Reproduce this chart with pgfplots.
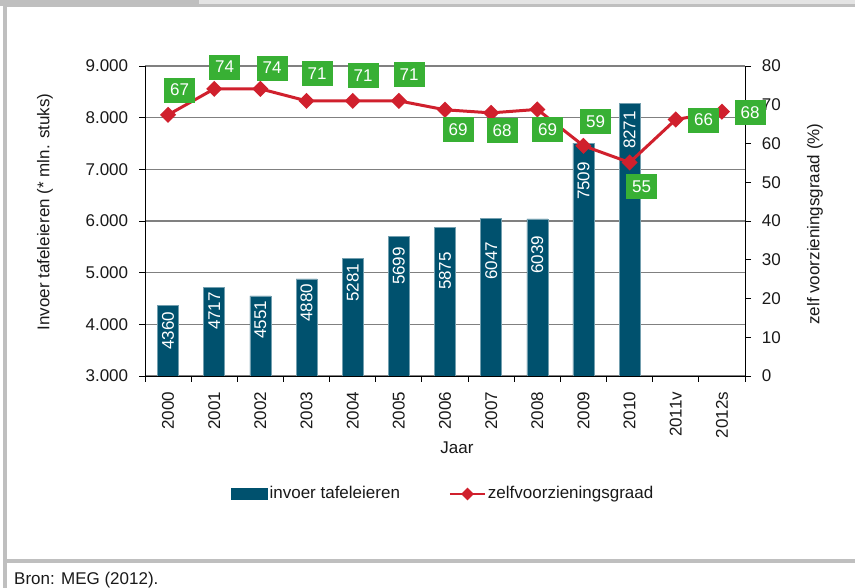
\documentclass[border=0pt]{standalone}
\usepackage{pgfplots}
\pgfplotsset{compat=1.18}
\usepackage{fontspec}
\setmainfont{Liberation Sans}
\definecolor{barc}{RGB}{0,81,110}
\definecolor{redc}{RGB}{208,32,45}
\definecolor{greenc}{RGB}{56,176,52}
\definecolor{framec}{RGB}{191,191,191}
\definecolor{framelight}{RGB}{228,228,228}
\definecolor{gridc}{RGB}{128,128,128}
\definecolor{txt}{RGB}{25,25,25}
\begin{document}
\fontsize{17pt}{20pt}\selectfont
\begin{tikzpicture}
\useasboundingbox (0pt,0pt) rectangle (855pt,588pt);
\fill[framec] (0pt,582pt) rectangle (199pt,588pt);
\fill[framelight] (199pt,584pt) rectangle (855pt,588pt);
\fill[framec] (3pt,581pt) rectangle (855pt,584pt);
\fill[framec] (3pt,0pt) rectangle (7pt,588pt);
\fill[framec] (3pt,25pt) rectangle (855pt,29pt);
\node[anchor=base west, inner sep=0pt, text=txt] at (14pt,3pt) {Bron: MEG (2012).};

\begin{axis}[
  at={(145pt,212pt)}, anchor=south west,
  scale only axis, width=600pt, height=310pt,
  xmin=-0.5, xmax=12.5, ymin=3000, ymax=9000,
  ytick={3000,4000,5000,6000,7000,8000,9000},
  xtick={-0.5,0.5,1.5,2.5,3.5,4.5,5.5,6.5,7.5,8.5,9.5,10.5,11.5,12.5},
  x tick label as interval,
  xticklabels={2000,2001,2002,2003,2004,2005,2006,2007,2008,2009,2010,2011v,2012s},
  xticklabel style={rotate=90, anchor=east, text=txt, xshift=-4pt},
  yticklabel style={text=txt, xshift=-5pt},
  axis x line*=bottom, axis y line*=left,
  axis line style={black, line width=0.9pt},
  tick align=outside, major tick length=6pt,
  tick style={black, line width=0.9pt},
  ymajorgrids, major grid style={gridc, line width=1.1pt},
  /pgf/number format/assume math mode=true,
  /pgf/number format/1000 sep={.},
  xlabel={Jaar},
  xlabel style={at={(axis description cs:0.52,-0.232)}, anchor=center, text=txt},
  ylabel={Invoer tafeleieren (* mln. stuks)},
  ylabel style={at={(axis description cs:-0.1667,0.529)}, anchor=center, text=txt},
]
\addplot[ybar, bar width=21pt, fill=barc, draw=barc!55!white, line width=0.5pt] coordinates {
 (0,4360) (1,4717) (2,4551) (3,4880) (4,5281) (5,5699) (6,5875) (7,6047) (8,6039) (9,7509) (10,8271)
};
\addplot[draw=none, mark=none, forget plot, nodes near coords, point meta=explicit symbolic,
  nodes near coords align={center},
  every node near coord/.append style={rotate=90, text=white, inner sep=0pt}]
  table[x=x, y=y, meta=lab] {
x y lab
0 3871 4360
1 4258 4717
2 4084 4551
3 4413 4880
4 4800 5281
5 5129 5699
6 5032 5875
7 5226 6047
8 5342 6039
9 6774 7509
10 7761 8271
};
\end{axis}

\begin{axis}[
  at={(145pt,212pt)}, anchor=south west,
  scale only axis, width=600pt, height=310pt,
  xmin=-0.5, xmax=12.5, ymin=0, ymax=80,
  ytick={0,10,20,30,40,50,60,70,80},
  yticklabel style={text=txt, xshift=5pt},
  axis y line*=right, axis x line=none,
  axis line style={black, line width=0.9pt},
  tick align=outside, major tick length=6pt,
  tick style={black, line width=0.9pt},
  /pgf/number format/assume math mode=true,
  clip=false,
  ylabel={zelf voorzieningsgraad (\%)},
  ylabel style={at={(axis description cs:1.1167,0.490)}, anchor=center, text=txt},
  legend columns=2,
  legend cell align=left,
  legend style={draw=none, fill=none, at={(axis description cs:0.1433,-0.3806)}, anchor=west,
    inner sep=0pt, text=txt, /tikz/every even column/.append style={column sep=47pt}},
]
\addlegendimage{legend image code/.code={\fill[barc] (0pt,-5.5pt) rectangle (36pt,5.5pt);}}
\addlegendentry{invoer tafeleieren}
\addplot[redc, line width=3pt, mark=square*, mark size=4.2pt, mark options={rotate=45, solid, fill=redc},
  legend image code/.code={\draw[redc, line width=2pt, mark=square*, mark size=3.5pt, mark options={rotate=45, fill=redc}, mark repeat=2, mark phase=2] plot coordinates {(0pt,0pt) (17.5pt,0pt) (35pt,0pt)};}]
  coordinates {
 (0,67.4) (1,74.1) (2,74.1) (3,71.0) (4,71.0) (5,71.0) (6,68.7) (7,67.9) (8,68.8) (9,59.4) (10,55.1) (11,66.2) (12,68.2)
};
\addlegendentry{zelfvoorzieningsgraad}
\addplot[draw=none, mark=none, forget plot, nodes near coords, point meta=explicit symbolic,
  nodes near coords align={center},
  every node near coord/.append style={fill=greenc, text=white, minimum width=31pt, minimum height=25pt, inner sep=0pt}]
  table[x=x, y=y, meta=lab] {
x y lab
0.248 73.8 67
1.223 79.74 74
2.252 79.48 74
3.227 77.94 71
4.224 77.42 71
5.220 77.68 71
6.282 63.61 69
7.236 63.35 68
8.222 63.61 69
9.262 65.55 59
10.258 48.9 55
11.602 66.06 66
12.609 68.0 68
};
\end{axis}
\end{tikzpicture}
\end{document}
